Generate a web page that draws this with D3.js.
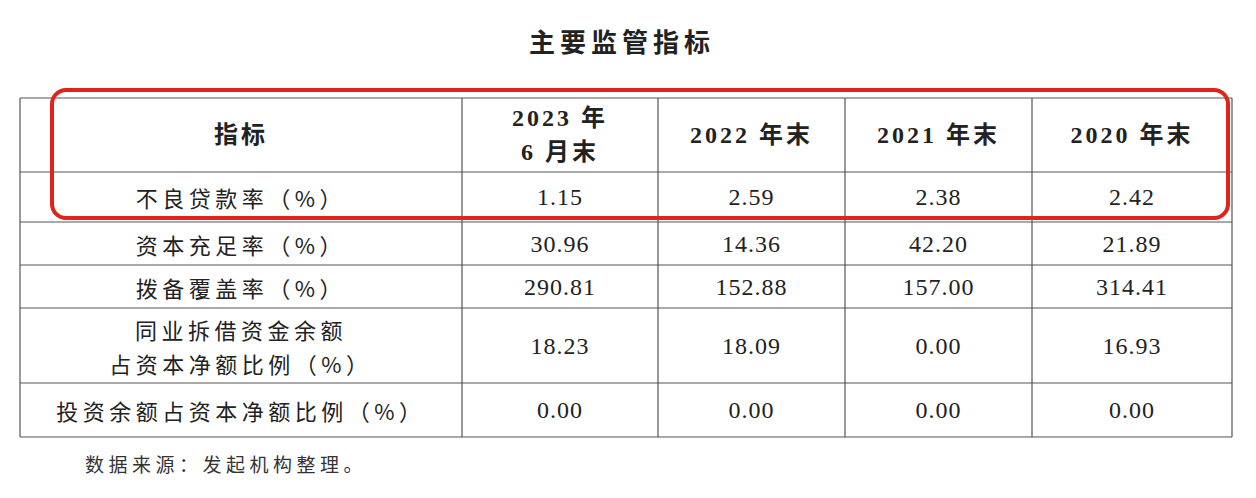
<!DOCTYPE html>
<html><head><meta charset="utf-8">
<script src="https://cdn.jsdelivr.net/npm/d3@7/dist/d3.min.js"></script>
<style>body{margin:0;background:#fff}</style></head>
<body><svg id="c" width="1256" height="498"></svg>
<script>
const title = "主要监管指标";
const headers = ["指标", ["2023 年","6 月末"], "2022 年末", "2021 年末", "2020 年末"];
const indicators = [["不良贷款率（%）"],["资本充足率（%）"],["拨备覆盖率（%）"],["同业拆借资金余额","占资本净额比例（%）"],["投资余额占资本净额比例（%）"]];
const values = [
  ["1.15","2.59","2.38","2.42"],
  ["30.96","14.36","42.20","21.89"],
  ["290.81","152.88","157.00","314.41"],
  ["18.23","18.09","0.00","16.93"],
  ["0.00","0.00","0.00","0.00"]
];
const source = "数据来源：发起机构整理。";

const svg = d3.select("#c");
const colX = [20,462,658,845,1032,1232];
const rowY = [98,172,222,265,308,383,437];
const cjk = "'Noto Sans CJK SC','Noto Sans CJK JP',sans-serif";
const num = "'Liberation Serif','DejaVu Serif',serif";
const ink = "#222";

svg.append("text").attr("x",622).attr("y",52).attr("text-anchor","middle")
  .attr("font-family",cjk).attr("font-weight","bold").attr("font-size",26)
  .attr("letter-spacing",5).attr("fill",ink).text(title);

const g = svg.append("g").attr("stroke","#555").attr("stroke-width",1.2);
rowY.forEach(y=>g.append("line").attr("x1",colX[0]).attr("x2",colX[5]).attr("y1",y).attr("y2",y));
colX.forEach(x=>g.append("line").attr("x1",x).attr("x2",x).attr("y1",rowY[0]).attr("y2",rowY[6]));

function cell(ci, ri, lines, bold){
  const cx=(colX[ci]+colX[ci+1])/2, cy=(rowY[ri]+rowY[ri+1])/2;
  const lh=34, n=lines.length;
  lines.forEach((t,i)=>{
    const isNum=/^[\d.]+$/.test(t);
    svg.append("text").attr("x",cx).attr("y",cy+(i-(n-1)/2)*lh)
      .attr("dominant-baseline","central").attr("text-anchor","middle")
      .attr("font-family", isNum?num:(bold?num+","+cjk:cjk))
      .attr("font-weight",bold?"bold":"normal").attr("font-size",isNum?24:(bold?24:22))
      .attr("letter-spacing",isNum?1:(bold?3:4.5))
      .attr("fill",ink).text(t);
  });
}
headers.forEach((h,i)=>cell(i,0,Array.isArray(h)?h:[h],true));
indicators.forEach((l,r)=>{
  cell(0,r+1,l,false);
  values[r].forEach((v,c)=>cell(c+1,r+1,[v],false));
});

svg.append("rect").attr("x",52).attr("y",90).attr("width",1176).attr("height",128)
  .attr("rx",14).attr("fill","none").attr("stroke","#e0241b").attr("stroke-width",4);

svg.append("text").attr("x",85).attr("y",472).attr("font-family",cjk)
  .attr("font-size",19).attr("letter-spacing",4.5).attr("fill","#333").text(source);
</script></body></html>
